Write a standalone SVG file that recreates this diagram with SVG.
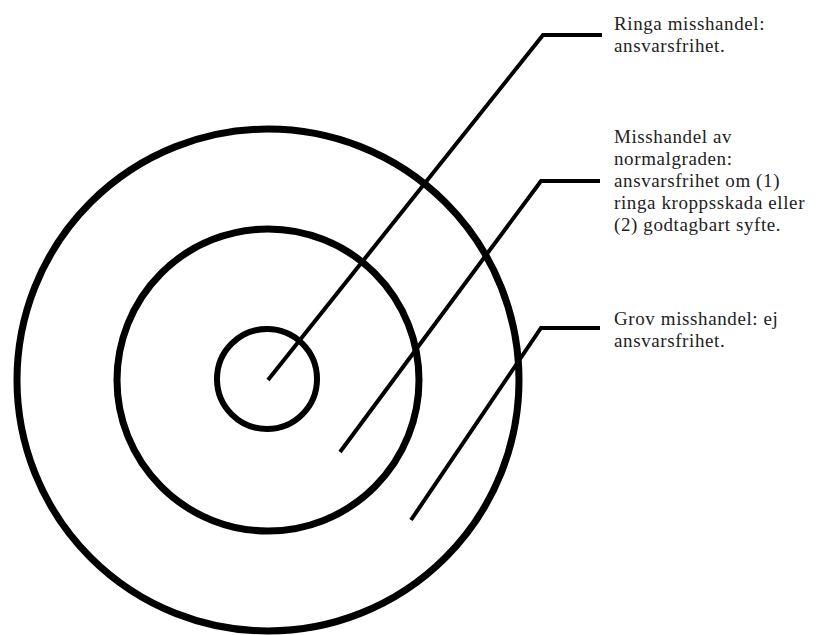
<svg xmlns="http://www.w3.org/2000/svg" width="836" height="635" viewBox="0 0 836 635">
<style>
.ring{fill:none;stroke:#000;stroke-width:7}
.lead{fill:none;stroke:#000;stroke-width:4;stroke-linejoin:miter}
.lbl{font-family:"Liberation Serif","DejaVu Serif",serif;font-size:19px;letter-spacing:0.6px;fill:#222}
</style>
<rect width="836" height="635" fill="#fff"/>
<g id="outer"><circle class="ring" cx="268" cy="380" r="251"/></g>
<g id="middle"><circle class="ring" cx="268" cy="380" r="151"/></g>
<g id="inner"><circle class="ring" cx="267" cy="379" r="50" style="stroke-width:6"/></g>
<g id="connectors">
<polyline class="lead" points="268,380 543,35 602,35"/>
<polyline class="lead" points="340,452 541,181 600,181"/>
<polyline class="lead" points="411,520 541,328 600,328"/>
</g>
<g id="label1">
<text class="lbl" x="614" y="30">Ringa misshandel:</text>
<text class="lbl" x="614" y="52">ansvarsfrihet.</text>
</g>
<g id="label2">
<text class="lbl" x="614" y="143">Misshandel av</text>
<text class="lbl" x="614" y="165">normalgraden:</text>
<text class="lbl" x="614" y="187">ansvarsfrihet om (1)</text>
<text class="lbl" x="614" y="209">ringa kroppsskada eller</text>
<text class="lbl" x="614" y="231">(2) godtagbart syfte.</text>
</g>
<g id="label3">
<text class="lbl" x="614" y="325">Grov misshandel: ej</text>
<text class="lbl" x="614" y="347">ansvarsfrihet.</text>
</g>
</svg>
